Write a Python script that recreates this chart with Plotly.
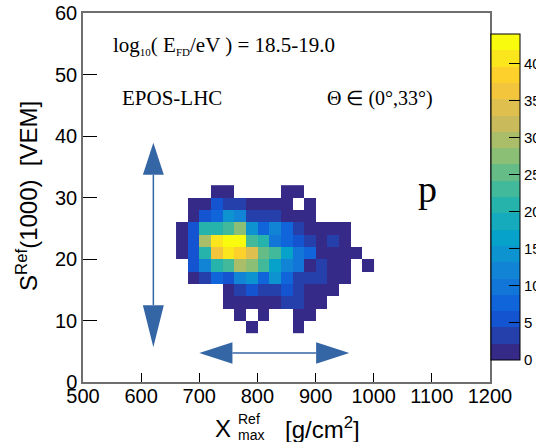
import plotly.graph_objects as go

# ---------------- data ----------------
X_CENTERS = [670, 690, 710, 730, 750, 770, 790, 810, 830, 850, 870, 890, 910, 930, 950, 970, 990]
Y_CENTERS = [9, 11, 13, 15, 17, 19, 21, 23, 25, 27, 29, 31]
# counts, rows from bottom (S=9) to top (S=31)
COUNTS = [
    [0, 0, 0, 0, 0, 0, 1, 0, 0, 0, 1, 0, 0, 0, 0, 0, 0],
    [0, 0, 0, 0, 0, 1, 0, 1, 0, 0, 1, 1, 0, 0, 0, 0, 0],
    [0, 0, 0, 0, 1, 1, 1, 1, 1, 3, 3, 1, 1, 0, 0, 0, 0],
    [0, 0, 0, 0, 1, 3, 6, 3, 3, 6, 3, 1, 1, 1, 0, 0, 0],
    [0, 1, 3, 7, 5, 12, 15, 7, 15, 7, 3, 3, 3, 1, 1, 0, 0],
    [0, 6, 12, 20, 24, 29, 27, 22, 16, 11, 9, 1, 4, 1, 1, 0, 1],
    [1, 6, 20, 37, 41, 38, 35, 26, 22, 16, 10, 7, 1, 1, 1, 1, 0],
    [1, 6, 29, 41, 43, 43, 22, 20, 10, 8, 6, 3, 1, 4, 1, 0, 0],
    [1, 6, 20, 20, 24, 27, 15, 7, 12, 7, 3, 1, 1, 1, 1, 0, 0],
    [0, 2, 6, 8, 15, 12, 3, 3, 3, 1, 1, 1, 0, 0, 0, 0, 0],
    [0, 1, 1, 6, 3, 3, 1, 1, 1, 1, 0, 1, 0, 0, 0, 0, 0],
    [0, 0, 0, 1, 1, 0, 0, 0, 0, 1, 1, 0, 0, 0, 0, 0, 0],
]
Z_MAX = 44
N_BANDS = 20
CBAR_TICKS = [0, 5, 10, 15, 20, 25, 30, 35, 40]

# arrows (data coordinates): vertical one at x=621, horizontal at S=4.7
V_ARROW = dict(x=621, tip_top=38.9, base_top=33.7, base_bot=12.5, tip_bot=5.7, half_w=18)
H_ARROW = dict(y=4.7, tip_l=700, base_l=757, base_r=901, tip_r=958, half_h=1.75)

# ---------------- palette (ROOT kBird) ----------------
R = [0.2082, 0.0592, 0.0780, 0.0232, 0.1802, 0.5301, 0.8186, 0.9956, 0.9764]
G = [0.1664, 0.3599, 0.5041, 0.6419, 0.7178, 0.7492, 0.7328, 0.7862, 0.9832]
B = [0.5293, 0.8684, 0.8385, 0.7914, 0.6425, 0.4662, 0.3499, 0.1968, 0.0539]


def bird(t):
    t = min(max(t, 0.0), 1.0)
    p = t * 8
    i = min(int(p), 7)
    f = p - i
    c = [a[i] + (a[i + 1] - a[i]) * f for a in (R, G, B)]
    return "rgb(%d,%d,%d)" % tuple(round(v * 255) for v in c)


colorscale = []
for k in range(N_BANDS):
    col = bird(k / (N_BANDS - 1))
    colorscale.append([k / N_BANDS, col])
    colorscale.append([(k + 1) / N_BANDS, col])

z = [[v if v > 0 else None for v in row] for row in COUNTS]

# ---------------- layout geometry ----------------
W, H = 536, 442
L, Rm, T, Bm = 83, 46, 13, 60
PW = W - L - Rm
PH = H - T - Bm


def px(xp):
    return (xp - L) / PW


def py(yp):
    return (H - Bm - yp) / PH


fig = go.Figure()
fig.add_trace(go.Heatmap(
    x=X_CENTERS, y=Y_CENTERS, z=z,
    zmin=0, zmax=Z_MAX, colorscale=colorscale,
    xgap=0, ygap=0, hoverongaps=False,
    colorbar=dict(
        x=px(491), xanchor="left", xpad=0,
        y=py(34), yanchor="top", ypad=0,
        lenmode="pixels", len=326, thickness=29,
        tickvals=CBAR_TICKS, ticks="inside", ticklen=11,
        tickcolor="black", tickwidth=1,
        tickfont=dict(family="Liberation Sans", size=15, color="black"),
        outlinecolor="black", outlinewidth=1,
    ),
))

ARROW_COL = "#3465a5"
va, ha = V_ARROW, H_ARROW
shapes = [
    dict(type="line", x0=va["x"], x1=va["x"], y0=va["base_top"], y1=va["base_bot"],
         line=dict(color=ARROW_COL, width=1.5)),
    dict(type="path", path="M %g %g L %g %g L %g %g Z" % (
        va["x"], va["tip_top"], va["x"] - va["half_w"], va["base_top"], va["x"] + va["half_w"], va["base_top"]),
        fillcolor=ARROW_COL, line=dict(width=0)),
    dict(type="path", path="M %g %g L %g %g L %g %g Z" % (
        va["x"], va["tip_bot"], va["x"] - va["half_w"], va["base_bot"], va["x"] + va["half_w"], va["base_bot"]),
        fillcolor=ARROW_COL, line=dict(width=0)),
    dict(type="line", y0=ha["y"], y1=ha["y"], x0=ha["base_l"], x1=ha["base_r"],
         line=dict(color=ARROW_COL, width=1.5)),
    dict(type="path", path="M %g %g L %g %g L %g %g Z" % (
        ha["tip_l"], ha["y"], ha["base_l"], ha["y"] - ha["half_h"], ha["base_l"], ha["y"] + ha["half_h"]),
        fillcolor=ARROW_COL, line=dict(width=0)),
    dict(type="path", path="M %g %g L %g %g L %g %g Z" % (
        ha["tip_r"], ha["y"], ha["base_r"], ha["y"] - ha["half_h"], ha["base_r"], ha["y"] + ha["half_h"]),
        fillcolor=ARROW_COL, line=dict(width=0)),
]

SERIF = "Liberation Serif"
SANS = "Liberation Sans"
SUB = "<sub><span style='font-size:11px'>%s</span></sub>"
annotations = [
    dict(text="log" + SUB % "10" + "( E" + SUB % "FD" + "/eV ) = 18.5-19.0", x=px(112), y=py(45),
         xanchor="left", yanchor="middle", font=dict(family=SERIF, size=21, color="black")),
    dict(text="EPOS-LHC", x=px(121), y=py(98), xanchor="left", yanchor="middle",
         font=dict(family=SERIF, size=21, color="black")),
    dict(text="Θ ∈ (0°,33°)", x=px(326), y=py(98), xanchor="left", yanchor="middle",
         font=dict(family=SERIF, size=20, color="black")),
    dict(text="p", x=px(427), y=py(189), xanchor="center", yanchor="middle",
         font=dict(family=SERIF, size=38, color="black")),
    # x title pieces
    dict(text="X", x=px(214), y=py(429), xanchor="left", yanchor="middle",
         font=dict(family=SANS, size=24, color="black")),
    dict(text="Ref", x=px(237), y=py(419), xanchor="left", yanchor="middle",
         font=dict(family=SANS, size=14, color="black")),
    dict(text="max", x=px(237), y=py(435), xanchor="left", yanchor="middle",
         font=dict(family=SANS, size=14, color="black")),
    dict(text="[g/cm<sup>2</sup>]", x=px(284), y=py(428), xanchor="left", yanchor="middle",
         font=dict(family=SANS, size=24, color="black")),
    # y title
    dict(text="S<sup>Ref</sup>(1000)  [VEM]", x=px(27), y=py(196), xanchor="center", yanchor="middle",
         textangle=-90, font=dict(family=SANS, size=24, color="black")),
]
for a in annotations:
    a.update(xref="paper", yref="paper", showarrow=False, borderpad=0)

fig.update_layout(
    width=W, height=H,
    margin=dict(l=L, r=Rm, t=T, b=Bm, pad=0, autoexpand=False),
    paper_bgcolor="white", plot_bgcolor="white",
    shapes=shapes, annotations=annotations,
    showlegend=False,
    xaxis=dict(range=[500, 1200], dtick=100, tick0=500, ticks="inside", ticklen=9,
               tickcolor="black", showgrid=False, zeroline=False,
               showline=True, mirror=True, linecolor="#6e6e6e", linewidth=1.5,
               automargin=False, ticklabelstandoff=-5,
               tickfont=dict(family=SANS, size=20, color="black")),
    yaxis=dict(range=[0, 60], dtick=10, tick0=0, ticks="inside", ticklen=14,
               tickcolor="black", showgrid=False, zeroline=False,
               showline=True, mirror=True, linecolor="#6e6e6e", linewidth=1.5,
               automargin=False,
               tickfont=dict(family=SANS, size=20, color="black")),
)

fig.write_html("out.html")
